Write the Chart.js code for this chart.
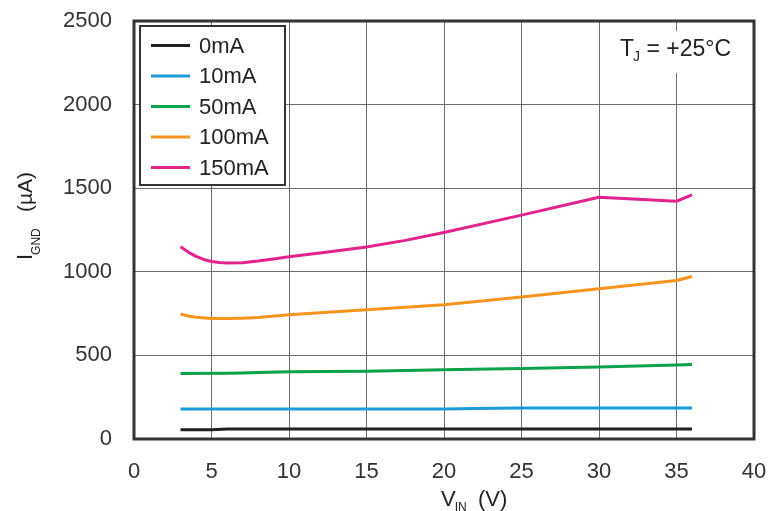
<!DOCTYPE html>
<html>
<head>
<meta charset="utf-8">
<script src="https://cdn.jsdelivr.net/npm/chart.js@4/dist/chart.umd.min.js"></script>
<style>
  html, body { margin: 0; padding: 0; background: #fff; }
  #wrap { width: 769px; height: 511px; }
</style>
</head>
<body>
<div id="wrap"><canvas id="ignd-chart" width="769" height="511"></canvas></div>
<script>
// load currents (legend labels)
const loads = ['0mA', '10mA', '50mA', '100mA', '150mA'];
const colors = ['#231f20', '#1b9bd7', '#0aa24b', '#f7941e', '#e2238c'];

// V_IN (V) / I_GND (uA)
const vin0 = [3, 5, 6, 36];
const ignd0 = [55, 55, 60, 60];
const vin10 = [3, 20, 22, 25, 36];
const ignd10 = [180, 180, 183, 185, 185];
const vin50 = [3, 6, 7, 8, 10, 15, 20, 25, 30, 35, 36];
const ignd50 = [392, 393, 395, 398, 402, 405, 414, 422, 430, 442, 446];
const vin100 = [3, 3.5, 4, 5, 6, 7, 8, 10, 15, 20, 25, 30, 35, 36];
const ignd100 = [747, 736, 728, 721, 720, 722, 726, 743, 773, 803, 849, 898, 948, 972];
const vin150 = [3, 3.5, 4, 4.5, 5, 5.5, 6, 7, 8, 9, 10, 12.5, 15, 17.5, 20, 25, 30, 35, 36];
const ignd150 = [1150, 1118, 1092, 1074, 1062, 1056, 1053, 1054, 1064, 1077, 1090, 1118, 1148, 1188, 1235, 1339, 1446, 1422, 1460];

const xTicks = [0, 5, 10, 15, 20, 25, 30, 35, 40];
const yTicks = [0, 500, 1000, 1500, 2000, 2500];

const FONT = '"Liberation Sans", Arial, Helvetica, sans-serif';

function pts(xs, ys) {
  return xs.map((x, i) => ({ x: x, y: ys[i] }));
}

const series = [pts(vin0, ignd0), pts(vin10, ignd10), pts(vin50, ignd50), pts(vin100, ignd100), pts(vin150, ignd150)];

// draws text followed by a subscript, returns end x
function textSub(ctx, main, sub, x, y, size, subSize, subDrop) {
  ctx.font = size + 'px ' + FONT;
  ctx.fillText(main, x, y);
  let w = ctx.measureText(main).width;
  ctx.font = subSize + 'px ' + FONT;
  ctx.fillText(sub, x + w - 1, y + subDrop);
  return x + w - 1 + ctx.measureText(sub).width;
}

const decorations = {
  id: 'decorations',
  afterDraw(chart) {
    const ctx = chart.ctx;
    const a = chart.chartArea;
    ctx.save();

    // legend box
    ctx.fillStyle = '#fff';
    ctx.fillRect(140, 26, 145, 159);
    ctx.lineWidth = 2;
    ctx.strokeStyle = '#333';
    ctx.strokeRect(140, 26, 145, 159);
    ctx.textBaseline = 'middle';
    ctx.textAlign = 'left';
    chart.data.datasets.forEach((ds, i) => {
      const y = 45.5 + i * 30.5;
      ctx.strokeStyle = ds.borderColor;
      ctx.lineWidth = 3;
      ctx.beginPath();
      ctx.moveTo(151, y);
      ctx.lineTo(190, y);
      ctx.stroke();
      ctx.fillStyle = '#222';
      ctx.font = '22px ' + FONT;
      ctx.fillText(ds.label, 199, y + 1);
    });

    // temperature note
    ctx.fillStyle = '#fff';
    ctx.fillRect(606, 31, 140, 42);
    ctx.fillStyle = '#222';
    ctx.textBaseline = 'alphabetic';
    let x = textSub(ctx, 'T', 'J', 620, 56, 23, 14, 5);
    ctx.font = '23px ' + FONT;
    ctx.fillText(' = +25\u00b0C', x, 56);

    // plot frame
    ctx.strokeStyle = '#333';
    ctx.lineWidth = 3;
    ctx.strokeRect(a.left, a.top, a.right - a.left, a.bottom - a.top);

    // x axis title
    ctx.fillStyle = '#222';
    x = textSub(ctx, 'V', 'IN', 441, 506, 22, 12, 5);
    ctx.font = '22px ' + FONT;
    ctx.fillText('(V)', 478, 506);

    // y axis title
    ctx.translate(32, 260);
    ctx.rotate(-Math.PI / 2);
    textSub(ctx, 'I', 'GND', 0, 0, 22, 12, 8);
    ctx.font = '21px ' + FONT;
    ctx.fillText('(\u00b5A)', 48, 0);

    ctx.restore();
  }
};

new Chart(document.getElementById('ignd-chart').getContext('2d'), {
  type: 'line',
  data: {
    datasets: loads.map((label, i) => ({
      label: label,
      data: series[i],
      borderColor: colors[i],
      borderWidth: 3,
      pointRadius: 0,
      fill: false,
      tension: 0,
      borderJoinStyle: 'round'
    }))
  },
  options: {
    responsive: false,
    animation: false,
    events: [],
    layout: { padding: { top: 21, right: 15, left: 0, bottom: 0 } },
    plugins: {
      legend: { display: false },
      tooltip: { enabled: false }
    },
    scales: {
      x: {
        type: 'linear',
        min: 0,
        max: 40,
        afterBuildTicks(scale) { scale.ticks = xTicks.map(v => ({ value: v })); },
        afterFit(scale) {
          scale.height = 72;
          scale.paddingLeft = 0;
          scale.paddingRight = 0;
        },
        grid: { color: '#6e6e6e', lineWidth: 1, drawTicks: false },
        border: { display: false },
        ticks: { padding: 20, color: '#333', font: { family: FONT, size: 22 }, callback: v => String(v) }
      },
      y: {
        type: 'linear',
        min: 0,
        max: 2500,
        afterBuildTicks(scale) { scale.ticks = yTicks.map(v => ({ value: v })); },
        afterFit(scale) {
          scale.width = 134;
          scale.paddingTop = 0;
          scale.paddingBottom = 0;
        },
        grid: { color: '#6e6e6e', lineWidth: 1, drawTicks: false },
        border: { display: false },
        ticks: { padding: 22, color: '#333', font: { family: FONT, size: 22 }, callback: v => String(v) }
      }
    }
  },
  plugins: [decorations]
});
</script>
</body>
</html>
